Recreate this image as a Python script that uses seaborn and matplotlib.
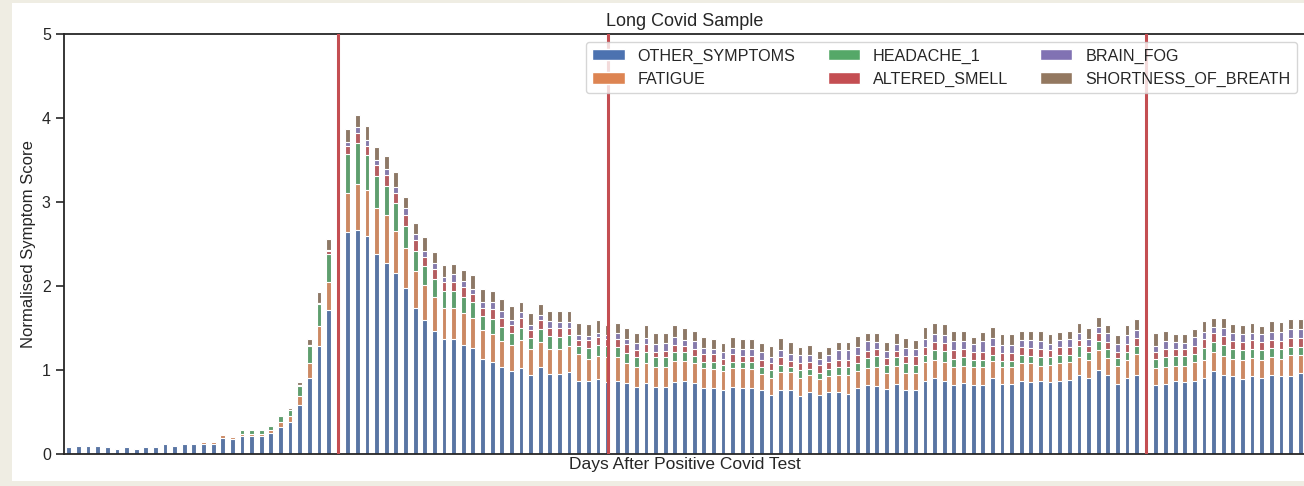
import numpy as np
import matplotlib
matplotlib.use("Agg")
import matplotlib.pyplot as plt
from matplotlib.patches import Patch, Rectangle
import seaborn as sns

nan = np.nan

# =================== Data ===================
days = list(range(-28, 101))
marker_days = [0, 28, 84]

symptoms = ["OTHER_SYMPTOMS", "FATIGUE", "HEADACHE_1", "ALTERED_SMELL", "BRAIN_FOG", "SHORTNESS_OF_BREATH"]

other_symptoms = [
    0.08, 0.10, 0.10, 0.10, 0.08, 0.065, 0.08, 0.065, 0.08, 0.08,
    0.115, 0.10, 0.115, 0.115, 0.115, 0.115, 0.19, 0.175, 0.21, 0.21,
    0.21, 0.245, 0.32, 0.38, 0.58, 0.905, 1.28, 1.72, nan, 2.64,
    2.67, 2.59, 2.38, 2.27, 2.16, 1.98, 1.74, 1.595, 1.465, 1.37,
    1.37, 1.30, 1.26, 1.13, 1.095, 1.04, 0.99, 1.02, 0.94, 1.04,
    0.95, 0.95, 0.98, 0.87, 0.87, 0.89, 0.86, 0.87, 0.84, 0.80,
    0.84, 0.80, 0.80, 0.86, 0.87, 0.84, 0.785, 0.785, 0.76, 0.80,
    0.785, 0.785, 0.76, 0.705, 0.76, 0.76, 0.69, 0.74, 0.705, 0.74,
    0.74, 0.72, 0.79, 0.82, 0.81, 0.77, 0.83, 0.76, 0.76, 0.87,
    0.905, 0.87, 0.82, 0.85, 0.82, 0.82, 0.90, 0.83, 0.83, 0.87,
    0.86, 0.87, 0.86, 0.87, 0.88, 0.945, 0.91, 1.00, 0.945, 0.83,
    0.905, 0.945, nan, 0.82, 0.83, 0.87, 0.86, 0.87, 0.905, 0.985,
    0.945, 0.93, 0.89, 0.93, 0.91, 0.945, 0.93, 0.93, 0.96,
]
fatigue = [
    0, 0, 0, 0, 0, 0, 0, 0, 0, 0.01,
    0, 0, 0.02, 0, 0.03, 0.03, 0.035, 0.03, 0.03, 0.03,
    0.03, 0.04, 0.06, 0.07, 0.11, 0.18, 0.24, 0.33, nan, 0.47,
    0.55, 0.55, 0.55, 0.57, 0.50, 0.47, 0.44, 0.42, 0.40, 0.365,
    0.365, 0.38, 0.365, 0.345, 0.33, 0.31, 0.31, 0.34, 0.31, 0.29,
    0.30, 0.30, 0.30, 0.32, 0.265, 0.28, 0.29, 0.28, 0.245, 0.24,
    0.24, 0.24, 0.24, 0.25, 0.24, 0.24, 0.235, 0.23, 0.23, 0.22,
    0.235, 0.23, 0.19, 0.205, 0.22, 0.22, 0.22, 0.195, 0.19, 0.19,
    0.20, 0.22, 0.20, 0.20, 0.23, 0.19, 0.22, 0.21, 0.20, 0.22,
    0.215, 0.23, 0.22, 0.20, 0.21, 0.21, 0.21, 0.21, 0.21, 0.215,
    0.22, 0.18, 0.20, 0.21, 0.21, 0.215, 0.21, 0.24, 0.20, 0.215,
    0.215, 0.245, nan, 0.20, 0.21, 0.18, 0.19, 0.22, 0.22, 0.23,
    0.22, 0.20, 0.23, 0.215, 0.215, 0.205, 0.20, 0.245, 0.215,
]
headache_1 = [
    0, 0, 0, 0, 0, 0, 0, 0, 0, 0.02,
    0, 0, 0, 0, 0, 0, 0, 0, 0.04, 0.04,
    0.04, 0.05, 0.07, 0.07, 0.12, 0.195, 0.26, 0.33, nan, 0.46,
    0.48, 0.42, 0.385, 0.345, 0.33, 0.26, 0.24, 0.225, 0.22, 0.20,
    0.20, 0.19, 0.185, 0.165, 0.185, 0.165, 0.14, 0.135, 0.135, 0.16,
    0.16, 0.14, 0.135, 0.10, 0.13, 0.125, 0.13, 0.125, 0.12, 0.11,
    0.14, 0.11, 0.11, 0.11, 0.10, 0.09, 0.075, 0.08, 0.07, 0.075,
    0.075, 0.08, 0.09, 0.09, 0.08, 0.055, 0.095, 0.08, 0.07, 0.085,
    0.095, 0.095, 0.09, 0.12, 0.13, 0.095, 0.11, 0.11, 0.095, 0.09,
    0.12, 0.125, 0.09, 0.10, 0.095, 0.09, 0.07, 0.07, 0.07, 0.09,
    0.09, 0.11, 0.10, 0.095, 0.09, 0.12, 0.10, 0.11, 0.11, 0.10,
    0.10, 0.10, nan, 0.11, 0.12, 0.12, 0.12, 0.095, 0.14, 0.12,
    0.135, 0.125, 0.12, 0.11, 0.11, 0.11, 0.125, 0.10, 0.10,
]
altered_smell = [
    0, 0, 0, 0, 0, 0, 0, 0, 0, 0,
    0, 0, 0, 0, 0, 0, 0, 0, 0, 0,
    0, 0, 0, 0, 0.01, 0.02, 0.02, 0.04, nan, 0.10,
    0.12, 0.11, 0.13, 0.135, 0.12, 0.13, 0.13, 0.11, 0.12, 0.115,
    0.115, 0.12, 0.09, 0.10, 0.115, 0.11, 0.095, 0.12, 0.095, 0.10,
    0.09, 0.105, 0.08, 0.07, 0.095, 0.095, 0.09, 0.09, 0.10, 0.09,
    0.09, 0.07, 0.08, 0.08, 0.08, 0.08, 0.09, 0.09, 0.07, 0.09,
    0.07, 0.07, 0.08, 0.08, 0.095, 0.07, 0.08, 0.08, 0.095, 0.08,
    0.09, 0.09, 0.10, 0.09, 0.08, 0.09, 0.07, 0.09, 0.11, 0.095,
    0.095, 0.10, 0.11, 0.10, 0.09, 0.10, 0.11, 0.09, 0.09, 0.095,
    0.09, 0.09, 0.08, 0.10, 0.095, 0.08, 0.07, 0.09, 0.08, 0.07,
    0.095, 0.095, nan, 0.09, 0.095, 0.08, 0.085, 0.10, 0.10, 0.10,
    0.11, 0.085, 0.095, 0.10, 0.10, 0.10, 0.095, 0.11, 0.11,
]
brain_fog = [
    0, 0, 0, 0, 0, 0, 0, 0, 0, 0,
    0, 0, 0, 0, 0, 0, 0, 0, 0, 0,
    0, 0, 0, 0, 0, 0, 0, 0.01, nan, 0.05,
    0.07, 0.07, 0.06, 0.07, 0.065, 0.085, 0.065, 0.07, 0.065, 0.055,
    0.09, 0.065, 0.07, 0.07, 0.08, 0.08, 0.065, 0.07, 0.05, 0.07,
    0.08, 0.08, 0.08, 0.055, 0.05, 0.05, 0.05, 0.07, 0.065, 0.08,
    0.065, 0.095, 0.095, 0.09, 0.07, 0.09, 0.08, 0.065, 0.08, 0.08,
    0.08, 0.08, 0.09, 0.08, 0.085, 0.09, 0.09, 0.08, 0.07, 0.08,
    0.11, 0.11, 0.095, 0.11, 0.08, 0.08, 0.08, 0.09, 0.09, 0.095,
    0.095, 0.095, 0.10, 0.10, 0.095, 0.12, 0.095, 0.095, 0.095, 0.09,
    0.095, 0.095, 0.07, 0.08, 0.095, 0.08, 0.08, 0.07, 0.10, 0.095,
    0.10, 0.095, nan, 0.07, 0.095, 0.085, 0.07, 0.105, 0.09, 0.08,
    0.095, 0.105, 0.09, 0.09, 0.09, 0.095, 0.10, 0.10, 0.10,
]
shortness_of_breath = [
    0, 0, 0, 0, 0, 0, 0, 0, 0, 0.01,
    0, 0, 0, 0, 0, 0, 0, 0, 0, 0,
    0, 0, 0, 0.03, 0.04, 0.07, 0.13, 0.135, nan, 0.15,
    0.15, 0.16, 0.15, 0.155, 0.18, 0.13, 0.13, 0.16, 0.14, 0.15,
    0.12, 0.135, 0.165, 0.155, 0.13, 0.135, 0.16, 0.13, 0.15, 0.125,
    0.125, 0.125, 0.125, 0.15, 0.14, 0.15, 0.12, 0.13, 0.125, 0.12,
    0.16, 0.12, 0.12, 0.15, 0.14, 0.12, 0.125, 0.12, 0.115, 0.125,
    0.12, 0.12, 0.11, 0.12, 0.145, 0.135, 0.10, 0.12, 0.10, 0.10,
    0.095, 0.095, 0.13, 0.10, 0.11, 0.11, 0.13, 0.12, 0.10, 0.14,
    0.13, 0.13, 0.12, 0.12, 0.085, 0.11, 0.13, 0.135, 0.135, 0.10,
    0.11, 0.125, 0.12, 0.10, 0.10, 0.12, 0.13, 0.12, 0.105, 0.11,
    0.12, 0.13, nan, 0.145, 0.11, 0.095, 0.105, 0.10, 0.13, 0.11,
    0.12, 0.10, 0.11, 0.12, 0.10, 0.13, 0.12, 0.12, 0.12,
]

# =================== Style ===================
sns.set_theme(style="ticks")
plt.rcParams["font.family"] = ["Liberation Sans", "DejaVu Sans"]
plt.rcParams["axes.linewidth"] = 1.3
plt.rcParams["axes.edgecolor"] = "0.15"

colors = sns.color_palette("deep", 6)

fig = plt.figure(figsize=(13.04, 4.86), dpi=100, facecolor="#EFEDE3")
# white canvas inside the beige border
fig.patches.append(Rectangle((12 / 1304, 5 / 486), 1.0, 478 / 486,
                             transform=fig.transFigure, facecolor="white",
                             edgecolor="none", zorder=-5))
ax = fig.add_axes([64 / 1304, 32 / 486, 1241 / 1304, 420 / 486])
ax.set_zorder(1)

# =================== Stacked bars ===================
layers = [other_symptoms, fatigue, headache_1, altered_smell, brain_fog, shortness_of_breath]
cum = np.cumsum(np.array(layers, dtype=float), axis=0)
labels = [str(d) for d in days]

# draw from the top of the stack down so each segment covers the one above
for i in range(len(layers) - 1, -1, -1):
    sns.barplot(x=labels, y=cum[i], order=labels, color=colors[i],
                width=0.5, edgecolor="white", linewidth=0.8,
                errorbar=None, ax=ax, zorder=2)

for d in marker_days:
    ax.axvline(days.index(d), color="#C44E52", linewidth=2.2, zorder=3)

ax.set_ylim(0, 5)
ax.set_yticks(range(6))
ax.set_xticks([])
ax.tick_params(axis="y", labelsize=11.5, length=6, width=1.2)
ax.set_xlabel("Days After Positive Covid Test", fontsize=12.5, labelpad=2)
ax.set_ylabel("Normalised Symptom Score", fontsize=12)
ax.set_title("Long Covid Sample", fontsize=13)

handles = [Patch(facecolor=colors[i], label=symptoms[i]) for i in range(len(symptoms))]
ax.legend(handles=handles, loc="upper right", ncol=3, fontsize=11.6,
          frameon=True, edgecolor="0.8")

fig.savefig("out.png", dpi=100, facecolor=fig.get_facecolor())
